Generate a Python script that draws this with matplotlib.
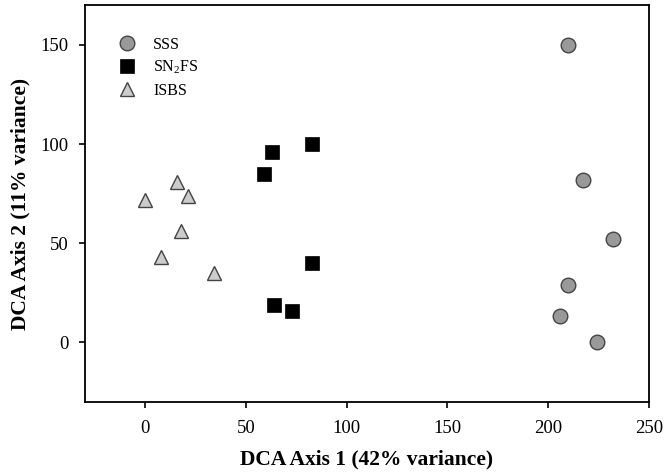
import numpy as np
import matplotlib
matplotlib.use("Agg")
import matplotlib.pyplot as plt

plt.rcParams['font.family'] = ['Liberation Serif', 'DejaVu Serif']
plt.rcParams['mathtext.fontset'] = 'stix'

# --- data ---
sss_x = [210, 217, 232, 210, 206, 224]
sss_y = [150, 82, 52, 29, 13, 0]

sn2fs_x = [83, 63, 59, 83, 64, 73]
sn2fs_y = [100, 96, 85, 40, 19, 16]

isbs_x = [16, 21, 0, 18, 8, 34]
isbs_y = [81, 74, 72, 56, 43, 35]

xticks = [0, 50, 100, 150, 200, 250]
yticks = [0, 50, 100, 150]

fig = plt.figure(figsize=(6.65, 4.73), dpi=100)
ax = fig.add_axes([0.1274, 0.1507, 0.8486, 0.8381])

ax.plot(sss_x, sss_y, 'o', ms=10.5, mfc='#999999', mec='#444444', mew=1.0,
        ls='none', label='SSS')
ax.plot(sn2fs_x, sn2fs_y, 's', ms=9.5, mfc='black', mec='black', mew=0.5,
        ls='none', label=r'SN$_\mathregular{2}$FS')
ax.plot(isbs_x, isbs_y, '^', ms=10.5, mfc='#cccccc', mec='#444444', mew=1.0,
        ls='none', label='ISBS')

ax.set_xlim(-30, 250)
ax.set_ylim(-30, 170)
ax.set_xticks(xticks)
ax.set_yticks(yticks)
ax.tick_params(axis='x', pad=9)
ax.tick_params(axis='y', pad=7)
ax.tick_params(direction='out', length=4.5, width=1.2, labelsize=13.5)
for sp in ax.spines.values():
    sp.set_linewidth(1.3)

ax.set_xlabel('DCA Axis 1 (42% variance)', fontsize=15.5, fontweight='bold', labelpad=9)
ax.set_ylabel('DCA Axis 2 (11% variance)', fontsize=15.5, fontweight='bold', labelpad=7)

ax.legend(loc='upper left', bbox_to_anchor=(0.035, 0.937), frameon=False,
          fontsize=11.5, handletextpad=0.65, labelspacing=0.4, borderaxespad=0)

fig.savefig('out.png', dpi=100)
